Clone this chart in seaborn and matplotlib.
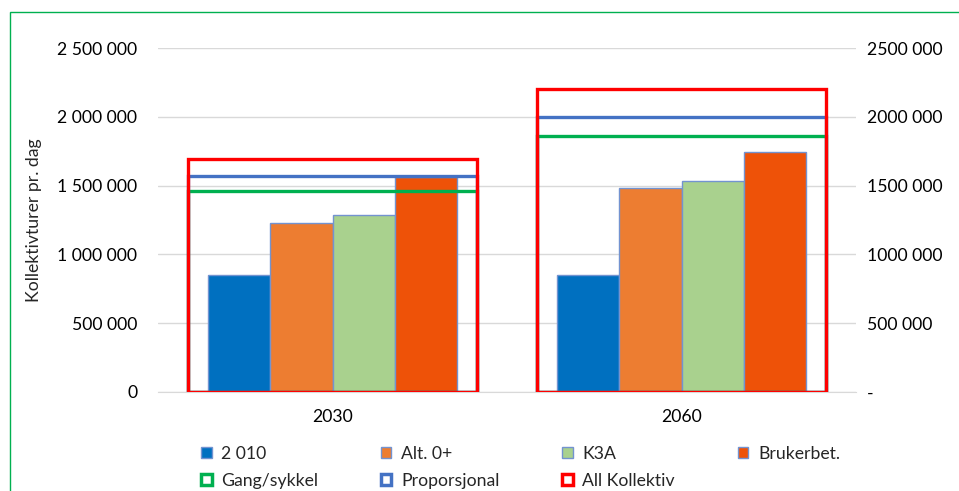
import pandas as pd
import seaborn as sns
import matplotlib.pyplot as plt
from matplotlib.patches import Patch, Rectangle
from matplotlib.ticker import FuncFormatter

# data
years = ['2030', '2060']
bar_series = ['2 010', 'Alt. 0+', 'K3A', 'Brukerbet.']
v_2010 = [850000, 850000]
v_alt0 = [1228000, 1483000]
v_k3a = [1286000, 1535000]
v_bruker = [1562000, 1746000]

frame_series = ['Gang/sykkel', 'Proporsjonal', 'All Kollektiv']
v_gang = [1462000, 1862000]
v_prop = [1573000, 2000000]
v_all = [1693000, 2200000]

bar_colors = ['#0070C0', '#ED7D31', '#A9D18E', '#EE5208']
frame_colors = ['#00B050', '#4472C4', '#FF0000']

FS = 12.7


def long_frame(names, value_lists):
    rows = []
    for name, vals in zip(names, value_lists):
        for y, v in zip(years, vals):
            rows.append({'year': y, 'serie': name, 'value': v})
    return pd.DataFrame(rows)


def left_fmt(v, pos):
    return f"{int(v):,}".replace(',', ' ')


def right_fmt(v, pos):
    if v == 0:
        return '-'
    s = f"{int(v):,}".replace(',', ' ')
    if v >= 1e6:
        s = s.replace(' ', '', 1)
    return s


def run():
    sns.set_style("white")
    plt.rcParams['font.family'] = ['Lato', 'DejaVu Sans']

    df_bars = long_frame(bar_series, [v_2010, v_alt0, v_k3a, v_bruker])
    df_frames = long_frame(frame_series, [v_gang, v_prop, v_all])

    fig = plt.figure(figsize=(9.59, 4.91), dpi=100)
    ax = fig.add_axes([158 / 959, 1 - 392 / 491, 698 / 959, 344 / 491])

    sns.barplot(data=df_bars, x='year', y='value', hue='serie', hue_order=bar_series,
                palette=bar_colors, saturation=1, width=0.716, edgecolor='#7393D0',
                linewidth=1, legend=False, ax=ax, zorder=2)

    ax2 = ax.twinx()
    sns.barplot(data=df_frames, x='year', y='value', hue='serie', hue_order=frame_series,
                palette=frame_colors, saturation=1, width=0.83, dodge=False, fill=False,
                linewidth=2.4, legend=False, ax=ax2)

    for a in (ax, ax2):
        a.set_ylim(0, 2500000)
        a.set_xlim(-0.5, 1.5)
        a.set_xlabel('')
        a.tick_params(length=0, labelsize=FS, colors='#000000')
        for sp in a.spines.values():
            sp.set_visible(False)
    ax2.set_ylabel('')
    ax.spines['bottom'].set_visible(True)
    ax.spines['bottom'].set_color('#D9D9D9')

    ax.set_yticks(range(0, 2500001, 500000))
    ax2.set_yticks(range(0, 2500001, 500000))
    ax.yaxis.set_major_formatter(FuncFormatter(left_fmt))
    ax2.yaxis.set_major_formatter(FuncFormatter(right_fmt))
    ax.tick_params(axis='y', pad=15)
    ax2.tick_params(axis='y', pad=8)
    ax.tick_params(axis='x', pad=12)
    ax.grid(axis='y', color='#D9D9D9', linewidth=1)
    ax.set_axisbelow(True)

    ax.set_ylabel('Kollektivturer pr. dag', fontsize=FS)
    ax.yaxis.set_label_coords(-0.166, 0.5)

    handles = [Patch(facecolor=c, edgecolor='#7393D0', linewidth=1) for c in bar_colors]
    handles += [Patch(facecolor='white', edgecolor=c, linewidth=2.5) for c in frame_colors]
    labels = bar_series + frame_series
    order = [0, 4, 1, 5, 2, 6, 3]
    fig.legend([handles[i] for i in order], [labels[i] for i in order], ncol=4,
               loc='upper left', bbox_to_anchor=(201 / 959, 1 - 446 / 491),
               frameon=False, fontsize=FS, borderpad=0, borderaxespad=0,
               handlelength=0.6, handleheight=0.6, handletextpad=0.55,
               labelspacing=0.6, columnspacing=3.55)

    fig.patches.append(Rectangle((10 / 959, -0.1), 1.2, 1 - 12 / 491 + 0.1,
                                 transform=fig.transFigure, fill=False,
                                 edgecolor='#00B050', linewidth=1))

    fig.savefig('out.png', dpi=100)
    plt.close(fig)


if __name__ == "__main__":
    run()
